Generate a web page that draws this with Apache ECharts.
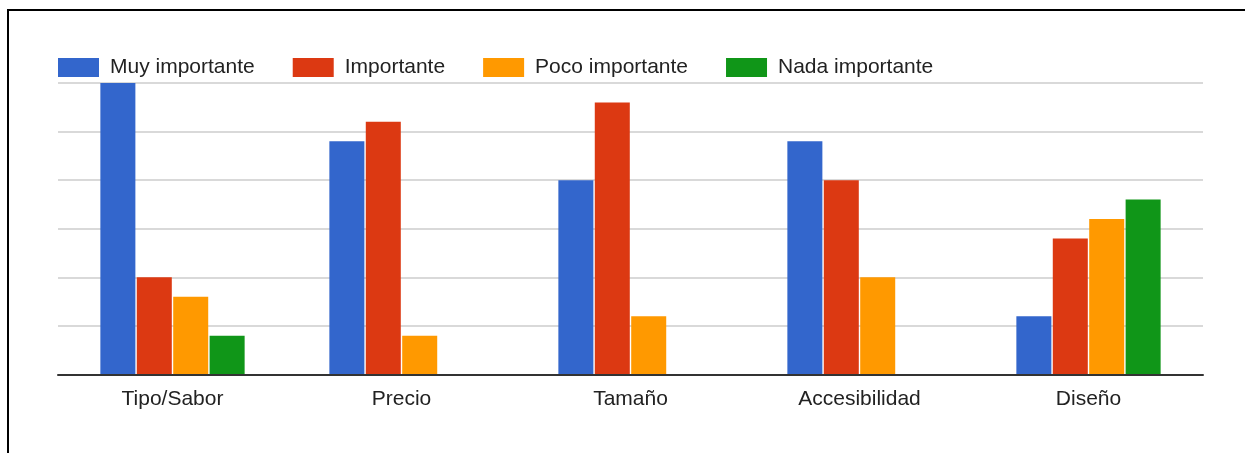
<!DOCTYPE html>
<html>
<head>
<meta charset="utf-8">
<script src="https://cdn.jsdelivr.net/npm/echarts@6/dist/echarts.min.js"></script>
<style>
  html, body { margin: 0; padding: 0; background: #fff; overflow: hidden; }
  #chart { width: 1245px; height: 453px; }
  #frame { position: absolute; left: 7px; top: 9px; width: 1300px; height: 500px; border: 2px solid #000; pointer-events: none; box-sizing: border-box; }
</style>
</head>
<body>
<div id="chart"></div>
<div id="frame"></div>
<script>
const categories = ['Tipo/Sabor', 'Precio', 'Tamaño', 'Accesibilidad', 'Diseño'];
const seriesNames = ['Muy importante', 'Importante', 'Poco importante', 'Nada importante'];
const muyImportante = [30, 24, 20, 24, 6];
const importante = [10, 26, 28, 20, 14];
const pocoImportante = [8, 4, 6, 10, 16];
const nadaImportante = [4, 0, 0, 0, 18];
const colors = ['#3366cc', '#dc3912', '#ff9900', '#109618'];
const values = [muyImportante, importante, pocoImportante, nadaImportante];

const chart = echarts.init(document.getElementById('chart'));
chart.setOption({
  backgroundColor: '#fff',
  animation: false,
  color: colors,
  textStyle: { fontFamily: 'Liberation Sans, Arial, sans-serif' },
  legend: {
    left: 58, top: 57, padding: 0,
    itemWidth: 41, itemHeight: 19, itemGap: 38,
    icon: 'rect',
    textStyle: { fontSize: 21, color: '#222', padding: [0, 0, 0, 6] },
    data: seriesNames
  },
  grid: { left: 58, right: 42, top: 83, bottom: 78.5 },
  xAxis: {
    type: 'category',
    data: categories,
    z: 5,
    axisLine: { lineStyle: { color: '#333', width: 2 } },
    axisTick: { show: false },
    axisLabel: { fontSize: 21, color: '#222', margin: 14 }
  },
  yAxis: {
    type: 'value', min: 0, max: 30, interval: 5,
    axisLabel: { show: false },
    axisLine: { show: false },
    axisTick: { show: false },
    splitLine: { lineStyle: { color: '#ccc', width: 1.5 } }
  },
  series: seriesNames.map((n, i) => ({
    name: n,
    type: 'bar',
    data: values[i],
    barGap: '4%',
    barCategoryGap: '37%',
    itemStyle: { color: colors[i] }
  }))
});
</script>
</body>
</html>
